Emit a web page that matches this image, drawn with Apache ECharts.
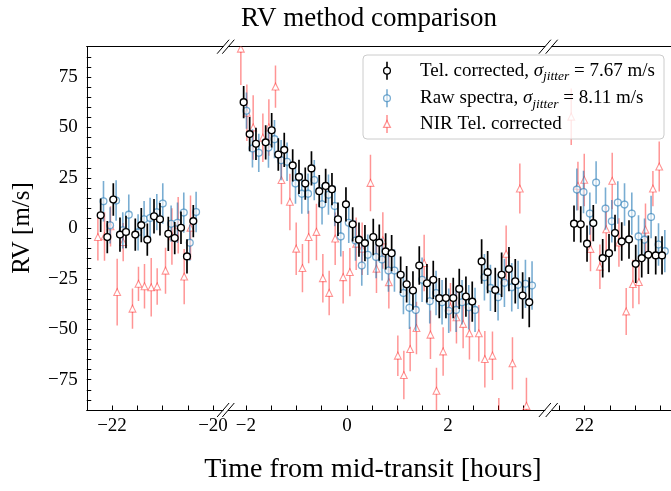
<!DOCTYPE html>
<html>
<head>
<meta charset="utf-8">
<script src="https://cdn.jsdelivr.net/npm/echarts@6/dist/echarts.min.js"></script>
<style>html,body{margin:0;padding:0;background:#fff}#c{width:671px;height:491px}</style>
</head>
<body>
<div id="c"></div>
<script>
// ---------------- data (hours from mid-transit, RV in m/s) ----------------
// left panel (previous night)
const tLeft = [-22.224,-22.093,-21.974,-21.842,-21.723,-21.539,-21.420,-21.301,-21.168,-21.050,-20.885,-20.758,-20.634,-20.515,-20.390];
const telLeft = [6.5,-4.3,14.3,-3.1,-1.8,-3.1,1.6,-5.6,6.0,4.5,-2.7,-4.8,0.3,-13.9,3.6];
const telLeftErr = [8.3,8,8,8.5,8,8,8.5,8,8.5,8,8.5,8,8,8.5,8];
const rawLeft = [13.4,1.5,13.8,-1.0,6.8,-2.0,4.5,5.1,8.0,12.3,2.3,2.8,7.8,-7.1,8.1];
const rawLeftErr = [10,9,10,9,10,9,9,10,9,10,9,10,10,9,10];
const nirLeft = [-4.3,-4.0,1.0,-31.6,-6.8,-39.8,-27.5,-28.7,-29.2,-28.8,-21.0,-4.0,1.5,-23.9,0.3];
const nirLeftErr = [11.6,12,10,16.5,9.5,10,8.5,11,14.5,9,11.4,14,14,13.7,16];

// middle panel (transit night)
const tMid = [-2.046,-1.927,-1.802,-1.610,-1.491,-1.360,-1.242,-1.075,-0.950,-0.826,-0.703,-0.549,-0.422,-0.297,-0.178,-0.020,0.113,0.238,0.356,0.521,0.640,0.766,0.885,1.063,1.182,1.307,1.432,1.584,1.709,1.828,1.960,2.105,2.224,2.356,2.481,2.667,2.786,2.937,3.063,3.208,3.333,3.479,3.610];
const telMid = [62.5,46.7,41.9,42.6,48.6,36.6,38.9,31.2,25.5,22.2,29.7,18.4,21.0,19.4,4.5,11.9,2.0,-5.6,-7.3,-4.3,-7.1,-11.4,-12.3,-23.0,-27.7,-30.8,-18.4,-27.2,-25.5,-34.6,-34.5,-34.5,-30.0,-33.8,-36.3,-16.4,-21.7,-30.5,-23.0,-20.2,-26.2,-33.3,-36.6];
const telMidErr = [8,8.5,8,8.5,8.5,8,8.5,8,8.5,8,8.5,8,8.5,8,8.3,8.5,8.5,8.5,9,9,9,9,9,9,9,9.5,9.5,9.5,9.5,10,10,10,10,10,10,11,10.5,11,11,11,11,11.5,12.4];
const rawMid = [58.3,39.6,37.4,40.0,44.2,33.8,33.0,22.2,17.2,17.2,23.9,11.9,16.7,11.1,-4.0,2.8,-6.0,-18.4,-13.1,-14.2,-15.4,-20.9,-20.9,-32.0,-39.4,-40.4,-25.5,-36.1,-32.0,-36.6,-40.8,-40.4,-36.6,-39.1,-40.4,-24.2,-29.5,-34.1,-27.0,-29.2,-28.0,-27.5,-28.3];
const rawMidErr = [9,9.5,9.5,10,9.5,10,9.5,10,10,10,10,10,10,10,10,10,10,10,10,10.5,10.5,10.5,10.5,10.5,10.5,10.5,11,11,11,11,11,11,11,11,11,11.5,11.5,11.5,12,12,12,12,12];
const nirMid = [89,57.3,50,44.9,50,70.2,23.9,13.1,-10.1,-19.7,-4.3,-1.8,-24.7,-32.0,-5.1,-24.2,-21.7,-7.6,-10.1,22.5,-20.0,-6.0,-26.7,-63.1,-72.7,-59.8,-49.4,-17.2,-52.7,-80.5,-61.0,-39.1,-44.1,-47.4,-52.0,-52.0,-64.8,-63.1,-100,-12.6,-66.9,19.7,-88.0];
const nirMidErr = [18,14,16,12,14,10.5,12,14,13,12,13,14,12,11,13,13,12,13,13,14,12,14,13,10,12,11,13,14,12,11.4,12,12,13,12,13,14,14,12,16,14,13,12.4,14];

// right panel (following night)
const tRight = [21.792,21.925,22.050,22.174,22.360,22.485,22.604,22.737,22.881,23.014,23.133,23.263,23.410,23.535];
const telRight = [2.3,2.0,-7.6,2.6,-14.8,-12.3,-2.3,-6.5,-5.5,-17.6,-14.8,-13.1,-13.4,-13.4];
const telRightErr = [9,9,9,9,9.5,9.5,9,9.5,9.5,9.5,9.5,9.5,9.5,9.5];
const rawRight = [19.2,18.0,7.3,22.7,9.8,3.5,12.8,11.8,7.3,-4.0,-5.6,5.6,-8.0,-11.3];
const rawRightErr = [10.4,10.5,10.5,10.5,10.5,10.5,10.5,10.5,10.5,10.5,10.5,10.5,10.5,10.5];
const nirRight = [55.3,21.0,24.0,-10.2,-19.0,-0.5,23.5,-7.0,-41.2,-27.6,-26.6,-0.7,19.7,30.6];
const nirRightErr = [14,12,13,11,11,12,14,12,11.6,12,11,13,8.7,12.4];

// axis ticks
const yTickLabels = [-75,-50,-25,0,25,50,75];
const yMinorTicks = [-90,-85,-80,-75,-70,-65,-60,-55,-50,-45,-40,-35,-30,-25,-20,-15,-10,-5,0,5,10,15,20,25,30,35,40,45,50,55,60,65,70,75,80,85,90];
const xTickLabelsLeft = [-22,-20];
const xTicksLeft = [-22.5,-22,-21.5,-21,-20.5,-20];
const xTickLabelsMid = [-2,0,2];
const xTicksMid = [-2,-1.5,-1,-0.5,0,0.5,1,1.5,2,2.5,3,3.5];
const xTickLabelsRight = [22];
const xTicksRight = [21.5,22,22.5,23,23.5];

const legendLabels = [
  ['Tel. corrected, ', 'jitter', ' = 7.67 m/s'],
  ['Raw spectra, ', 'jitter', ' = 8.11 m/s'],
  ['NIR Tel. corrected']
];

// ---------------- layout ----------------
const FONT = 'Liberation Serif, Times New Roman, serif';
const TOP = 46.7, H = 363.3;
const panels = [
  {left: 86.75, width: 136.35, min: -22.5, max: -19.8, ticks: xTicksLeft, labels: xTickLabelsLeft},
  {left: 228.3, width: 316.6, min: -2.35, max: 3.92, ticks: xTicksMid, labels: xTickLabelsMid},
  {left: 551.7, width: 123.7, min: 21.35, max: 23.8, ticks: xTicksRight, labels: xTickLabelsRight}
];
const COL = {
  tel: '#000000',
  raw: 'rgba(31,119,180,0.6)',
  nir: 'rgba(255,0,0,0.42)'
};
const fmt = v => String(v).replace('-', '\u2212');

const grids = [], xAxes = [], yAxes = [];
panels.forEach((p, i) => {
  grids.push({left: p.left, top: TOP, width: p.width, height: H, outerBoundsMode: 'none', containLabel: false});
  xAxes.push({
    type: 'value', gridIndex: i, min: p.min, max: p.max, position: 'bottom',
    axisLine: {show: true, onZero: false, lineStyle: {color: '#000', width: 1}},
    axisTick: {show: true, inside: true, length: 4.5, lineStyle: {color: '#000', width: 1}, customValues: p.ticks},
    axisLabel: {show: true, margin: 7, color: '#000', fontFamily: FONT, fontSize: 19, customValues: p.labels, formatter: fmt},
    splitLine: {show: false}, minorTick: {show: false}
  });
  xAxes.push({
    type: 'value', gridIndex: i, min: p.min, max: p.max, position: 'top',
    axisLine: {show: true, onZero: false, lineStyle: {color: '#000', width: 1}},
    axisTick: {show: false}, axisLabel: {show: false}, splitLine: {show: false}
  });
  yAxes.push({
    type: 'value', gridIndex: i, min: -90, max: 90, show: i === 0,
    axisLine: {show: i === 0, onZero: false, lineStyle: {color: '#000', width: 1}},
    axisTick: {show: i === 0, inside: true, length: 4.5, lineStyle: {color: '#000', width: 1}, customValues: yMinorTicks},
    axisLabel: {show: i === 0, margin: 9, color: '#000', fontFamily: FONT, fontSize: 19, customValues: yTickLabels, formatter: fmt},
    splitLine: {show: false}
  });
});

function drawMarker(kind, cx, cy, color, fill, lw) {
  if (kind === 'circle') {
    return {type: 'circle', shape: {cx: cx, cy: cy, r: 3.4}, style: {fill: fill, stroke: color, lineWidth: lw}};
  }
  const h = 3.4;
  return {type: 'polygon', shape: {points: [[cx, cy - h], [cx - h, cy + h], [cx + h, cy + h]]}, style: {fill: fill, stroke: color, lineWidth: lw}};
}

function makeRender(color, kind, dodge, fill, mlw, blw) {
  return function (params, api) {
    const x = api.value(0), y = api.value(1), e = api.value(2);
    const c = api.coord([x, y]);
    const hi = api.coord([x, y + e]);
    const lo = api.coord([x, y - e]);
    const cx = c[0] + dodge;
    return {
      type: 'group',
      children: [
        {type: 'line', shape: {x1: cx, y1: hi[1], x2: cx, y2: lo[1]}, style: {stroke: color, lineWidth: blw}},
        drawMarker(kind, cx, c[1], color, fill, mlw)
      ]
    };
  };
}

const sets = [
  {name: 'NIR Tel. corrected', key: 'nir', kind: 'triangle', dodge: -2.8, fill: '#ffffff', mlw: 1.1, blw: 1.5,
   data: [[tLeft, nirLeft, nirLeftErr], [tMid, nirMid, nirMidErr], [tRight, nirRight, nirRightErr]]},
  {name: 'Raw spectra', key: 'raw', kind: 'circle', dodge: 2.8, fill: 'rgba(255,255,255,0.6)', mlw: 1.3, blw: 1.6,
   data: [[tLeft, rawLeft, rawLeftErr], [tMid, rawMid, rawMidErr], [tRight, rawRight, rawRightErr]]},
  {name: 'Tel. corrected', key: 'tel', kind: 'circle', dodge: 0, fill: '#ffffff', mlw: 1.4, blw: 1.7,
   data: [[tLeft, telLeft, telLeftErr], [tMid, telMid, telMidErr], [tRight, telRight, telRightErr]]}
];

const series = [];
sets.forEach(s => {
  s.data.forEach((d, i) => {
    series.push({
      type: 'custom', name: s.name, xAxisIndex: 2 * i, yAxisIndex: i, clip: true,
      renderItem: makeRender(COL[s.key], s.kind, s.dodge, s.fill, s.mlw, s.blw),
      data: d[0].map((t, k) => [t, d[1][k], d[2][k]]),
      encode: {x: 0, y: 1}, silent: true, animation: false
    });
  });
});

// ---------------- decorations: break marks, legend, titles ----------------
const graphics = [];
function brk(x, y) {
  graphics.push({type: 'line', shape: {x1: x - 6, y1: y + 7, x2: x + 6, y2: y - 7}, style: {stroke: '#000', lineWidth: 1}, z: 100});
}
const pl = panels;
[[pl[0].left + pl[0].width], [pl[1].left], [pl[1].left + pl[1].width], [pl[2].left]].forEach(a => {
  brk(a[0], TOP); brk(a[0], TOP + H);
});

// legend
const LX = 363, LY = 55, LW = 301, LH = 84;
graphics.push({type: 'rect', shape: {x: LX, y: LY, width: LW, height: LH, r: 4},
  style: {fill: 'rgba(255,255,255,0.8)', stroke: '#cccccc', lineWidth: 1}, z: 110});
const rowsY = [70.7, 98.3, 124];
const legKeys = ['tel', 'raw', 'nir'];
const legKinds = ['circle', 'circle', 'triangle'];
const legFills = ['#ffffff', 'rgba(255,255,255,0.6)', '#ffffff'];
const richStyle = {
  a: {fontFamily: FONT, fontSize: 19, lineHeight: 26, fill: '#000'},
  s: {fontFamily: FONT, fontSize: 19, fontStyle: 'italic', lineHeight: 26, fill: '#000'},
  j: {fontFamily: FONT, fontSize: 13.5, fontStyle: 'italic', lineHeight: 13.5, verticalAlign: 'bottom', fill: '#000'}
};
legendLabels.forEach((lab, i) => {
  const y = rowsY[i], x = 387;
  const col = COL[legKeys[i]];
  graphics.push({type: 'line', shape: {x1: x, y1: y - 9, x2: x, y2: y + 9}, style: {stroke: col, lineWidth: 1.6}, z: 111});
  const m = drawMarker(legKinds[i], x, y, col, legFills[i], 1.3);
  m.z = 112; graphics.push(m);
  let txt;
  if (lab.length === 3) txt = '{a|' + lab[0] + '}{s|\u03C3}{j|' + lab[1] + '}{a|' + lab[2] + '}';
  else txt = '{a|' + lab[0] + '}';
  graphics.push({type: 'text', x: 420, y: y, z: 113,
    style: {text: txt, rich: richStyle, verticalAlign: 'middle', align: 'left', fontFamily: FONT, fontSize: 19, fill: '#000'}});
});

// titles
graphics.push({type: 'text', x: 369, y: 19, style: {text: 'RV method comparison', fontFamily: FONT, fontSize: 27, fill: '#000', align: 'center', verticalAlign: 'middle'}});
graphics.push({type: 'text', x: 373, y: 470, style: {text: 'Time from mid-transit [hours]', fontFamily: FONT, fontSize: 28, fill: '#000', align: 'center', verticalAlign: 'middle'}});
graphics.push({type: 'text', x: 22, y: 228, rotation: Math.PI / 2, style: {text: 'RV [m/s]', fontFamily: FONT, fontSize: 25, fill: '#000', align: 'center', verticalAlign: 'middle'}});

const chart = echarts.init(document.getElementById('c'), null, {renderer: 'canvas'});
chart.setOption({
  animation: false,
  backgroundColor: '#ffffff',
  grid: grids, xAxis: xAxes, yAxis: yAxes,
  series: series,
  graphic: {elements: graphics}
});
</script>
</body>
</html>
